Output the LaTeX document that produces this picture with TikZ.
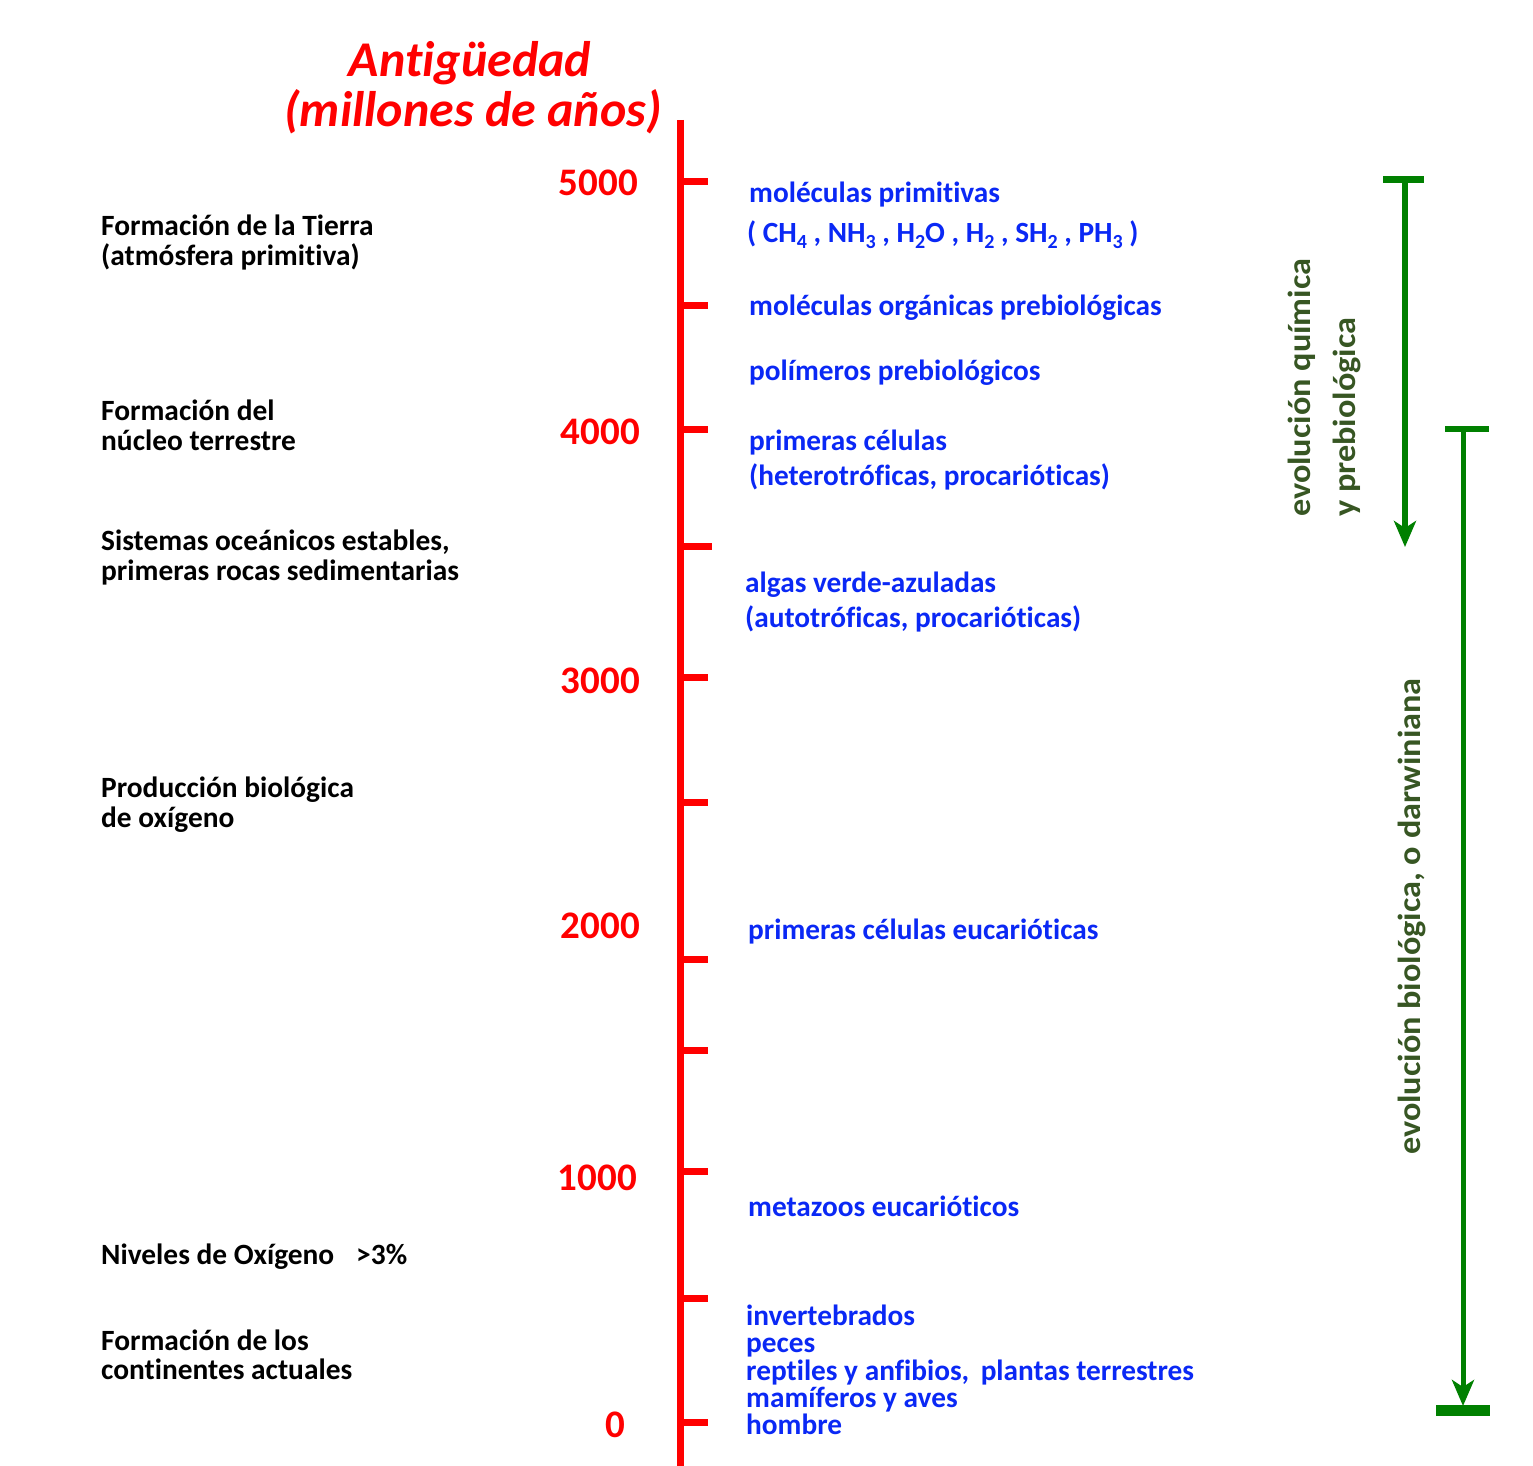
\documentclass[tikz,border=0pt]{standalone}
\usepackage{fontspec}
\setmainfont{Carlito}[Ligatures=NoCommon]
\newfontfamily\grn[FakeStretch=1.07,Ligatures=NoCommon]{Carlito}
\usetikzlibrary{arrows.meta}
\definecolor{tblue}{RGB}{10,40,245}
\definecolor{tred}{RGB}{255,0,0}
\definecolor{agreen}{RGB}{0,128,0}
\definecolor{tgreen}{RGB}{55,86,35}
\newcommand\sbs[1]{\raisebox{-0.22em}{\fontsize{20}{20}\selectfont #1}}
\begin{document}
\begin{tikzpicture}[x=1pt,y=-1pt,
  blacklbl/.style={inner sep=0, anchor=base west, text=black, font=\fontsize{29.4}{30}\selectfont\bfseries},
  bluelbl/.style={inner sep=0, anchor=base west, text=tblue, font=\fontsize{29.3}{29}\selectfont\bfseries},
  agelbl/.style={inner sep=0, anchor=base east, text=tred, font=\fontsize{39}{39}\selectfont\bfseries},
  titlelbl/.style={inner sep=0, anchor=base, text=tred, font=\fontsize{50}{50}\selectfont\bfseries\itshape},
  greenlbl/.style={inner sep=0, anchor=base west, rotate=90, text=tgreen, font=\fontsize{32}{32}\selectfont\grn\bfseries},
  axisline/.style={draw=tred, line width=7pt},
  ticksty/.style={draw=tred, line width=7pt},
  garrow/.style={draw=agreen, -{Stealth[length=26pt,width=22pt,inset=7pt]}},
  gbar/.style={draw=agreen}
]
\useasboundingbox (0,0) rectangle (1533,1466);
\fill[white] (0,0) rectangle (1533,1466);

% title
\node[titlelbl] (t1) at (470,77) {Antigüedad};
\node[titlelbl] (t2) at (473,127) {(millones de años)};

% axis
\coordinate (axtop) at (680,120);
\coordinate (axbot) at (680,1466);
\draw[axisline] (axtop) -- (axbot);
\foreach \yy in {181.5,305,429,677,802,959,1050,1171,1298,1422}
  \draw[ticksty] (680,\yy) -- (708,\yy);
\draw[ticksty] (684,546) -- (712,546);

% ages
\node[agelbl] (a5) at (638,196) {5000};
\node[agelbl] (a4) at (640,444.5) {4000};
\node[agelbl] (a3) at (640,693) {3000};
\node[agelbl] (a2) at (640,938) {2000};
\node[agelbl] (a1) at (637,1190) {1000};
\node[agelbl] (a0) at (625,1437.5) {0};

% black labels
\node[blacklbl] (b1a) at (101,235) {Formación de la Tierra};
\node[blacklbl] (b1b) at (101,265) {(atmósfera primitiva)};
\node[blacklbl] (b2a) at (101,420) {Formación del};
\node[blacklbl] (b2b) at (101,450) {núcleo terrestre};
\node[blacklbl] (b3a) at (101,550) {Sistemas oceánicos estables,};
\node[blacklbl] (b3b) at (101,580) {primeras rocas sedimentarias};
\node[blacklbl] (b4a) at (101,797) {Producción biológica};
\node[blacklbl] (b4b) at (101,827) {de oxígeno};
\node[blacklbl] (b5a) at (101,1264) {Niveles de Oxígeno};
\node[blacklbl] (b5b) at (356,1264) {>3\%};
\node[blacklbl] (b6a) at (101,1350) {Formación de los};
\node[blacklbl] (b6b) at (101,1379) {continentes actuales};

% blue labels
\node[bluelbl] (c1a) at (749,203) {moléculas primitivas};
\node[bluelbl] (c1b) at (747,242) {( CH\sbs{4} , NH\sbs{3} , H\sbs{2}O , H\sbs{2} , SH\sbs{2} , PH\sbs{3} )};
\node[bluelbl] (c2) at (749,315) {moléculas orgánicas prebiológicas};
\node[bluelbl] (c3) at (749,380) {polímeros prebiológicos};
\node[bluelbl] (c4a) at (749,450) {primeras células};
\node[bluelbl] (c4b) at (749,485) {(heterotróficas, procarióticas)};
\node[bluelbl] (c5a) at (745,592) {algas verde-azuladas};
\node[bluelbl] (c5b) at (745,627) {(autotróficas, procarióticas)};
\node[bluelbl] (c6) at (748,939) {primeras células eucarióticas};
\node[bluelbl] (c7) at (748,1216) {metazoos eucarióticos};
\node[bluelbl] (c8a) at (746,1325) {invertebrados};
\node[bluelbl] (c8b) at (746,1352) {peces};
\node[bluelbl] (c8c) at (746,1380) {reptiles y anfibios,\, plantas terrestres};
\node[bluelbl] (c8d) at (746,1407) {mamíferos y aves};
\node[bluelbl] (c8e) at (746,1434) {hombre};

% green labels
\node[greenlbl] (g1a) at (1310,517) {evolución química};
\node[greenlbl] (g1b) at (1355,517) {y prebiológica};
\node[greenlbl] (g2) at (1420,1155) {evolución biológica, o darwiniana};

% green arrows
\coordinate (q1l) at (1383,180);
\coordinate (q1r) at (1424,180);
\coordinate (q1s) at (1405,180);
\coordinate (q1e) at (1405,547);
\draw[gbar, line width=7pt] (q1l) -- (q1r);
\draw[garrow, line width=6.5pt] (q1s) -- (q1e);

\coordinate (q2l) at (1445,429);
\coordinate (q2r) at (1489,429);
\coordinate (q2s) at (1463,429);
\coordinate (q2e) at (1463,1406);
\coordinate (q3l) at (1436,1410);
\coordinate (q3r) at (1490,1410);
\draw[gbar, line width=6pt] (q2l) -- (q2r);
\draw[garrow, line width=5pt] (q2s) -- (q2e);
\draw[gbar, line width=11pt] (q3l) -- (q3r);
\end{tikzpicture}
\end{document}
